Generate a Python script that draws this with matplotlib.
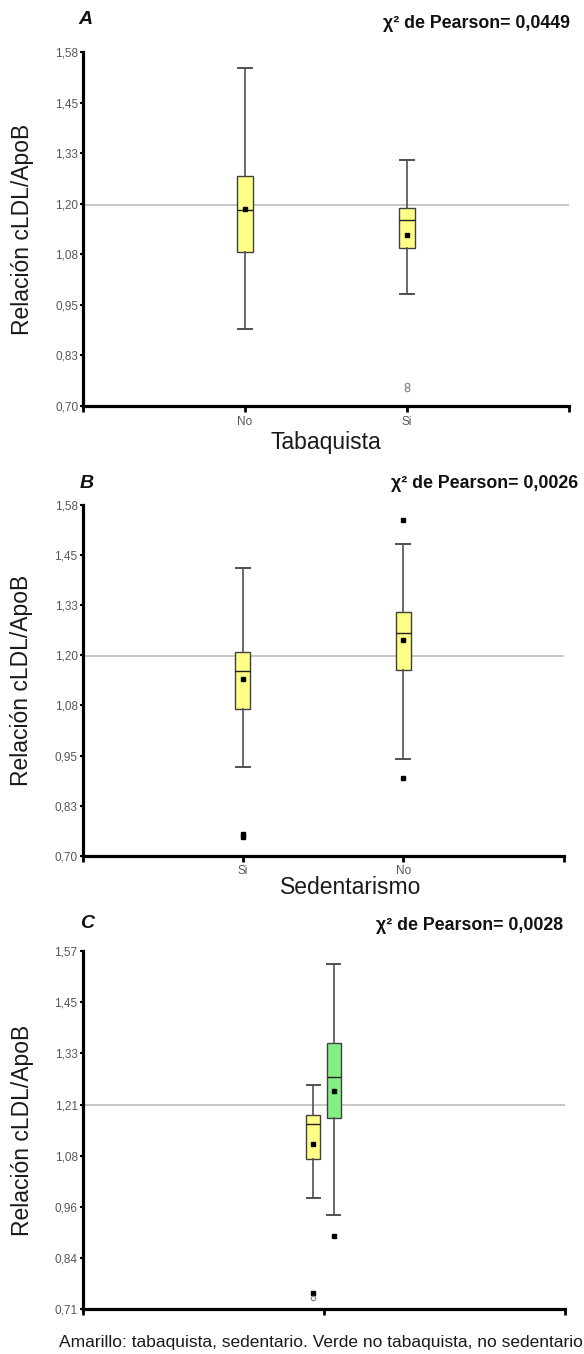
import numpy as np
import matplotlib
matplotlib.use("Agg")
import matplotlib.pyplot as plt

plt.rcParams['font.family'] = ['Liberation Sans', 'DejaVu Sans']

# ---------------- data ----------------
# Panel A: Tabaquista
a_labels = ['No', 'Si']
a_whislo = [0.891, 0.979]
a_q1 = [1.083, 1.092]
a_med = [1.187, 1.162]
a_q3 = [1.272, 1.192]
a_whishi = [1.540, 1.311]
a_mean = [1.189, 1.124]
a_fliers = [[], []]
a_far = [[], [0.742, 0.751]]
a_ref = 1.20
a_yticklabels = ['0,70', '0,83', '0,95', '1,08', '1,20', '1,33', '1,45', '1,58']
a_chi = 'χ² de Pearson= 0,0449'

# Panel B: Sedentarismo
b_labels = ['Si', 'No']
b_whislo = [0.923, 0.943]
b_q1 = [1.067, 1.166]
b_med = [1.164, 1.258]
b_q3 = [1.211, 1.311]
b_whishi = [1.423, 1.482]
b_mean = [1.143, 1.240]
b_fliers = [[0.748, 0.754], [0.894, 1.542]]
b_far = [[], []]
b_ref = 1.20
b_yticklabels = ['0,70', '0,83', '0,95', '1,08', '1,20', '1,33', '1,45', '1,58']
b_chi = 'χ² de Pearson= 0,0026'

# Panel C: combined (yellow: tabaquista, sedentario; green: no tabaquista, no sedentario)
c_labels = ['', '']
c_whislo = [0.976, 0.937]
c_q1 = [1.070, 1.169]
c_med = [1.154, 1.267]
c_q3 = [1.176, 1.348]
c_whishi = [1.249, 1.539]
c_mean = [1.106, 1.234]
c_fliers = [[0.748], [0.887]]
c_far = [[0.737], []]
c_ref = 1.20
c_yticklabels = ['0,71', '0,84', '0,96', '1,08', '1,21', '1,33', '1,45', '1,57']
c_chi = 'χ² de Pearson= 0,0028'

caption = 'Amarillo: tabaquista, sedentario. Verde no tabaquista, no sedentario'

YELLOW = '#FFFF88'
GREEN = '#84F084'

W, H = 584, 1354
fig = plt.figure(figsize=(W / 100, H / 100), dpi=100)


def px_axes(left, right, top, bottom):
    return fig.add_axes([left / W, 1 - bottom / H, (right - left) / W, (bottom - top) / H])


def draw_panel(ax, labels, whislo, q1, med, q3, whishi, mean, fliers, far,
               positions, width, colors, ylo, yhi, yticklabels, ref, xlim, xticks, xticklabels):
    stats = []
    for i in range(len(labels)):
        stats.append(dict(label=labels[i], whislo=whislo[i], q1=q1[i], med=med[i],
                          q3=q3[i], whishi=whishi[i], mean=mean[i], fliers=fliers[i]))
    ax.axhline(ref, color='#BDBDBD', lw=1.2, zorder=1)
    bp = ax.bxp(stats, positions=positions, widths=width, capwidths=width * 0.92,
                patch_artist=True, showmeans=True, manage_ticks=False,
                boxprops=dict(edgecolor='#404040', linewidth=1.0),
                medianprops=dict(color='#202020', linewidth=1.0),
                whiskerprops=dict(color='#505050', linewidth=1.2),
                capprops=dict(color='#505050', linewidth=1.4),
                meanprops=dict(marker='s', markerfacecolor='black', markeredgecolor='black',
                               markersize=3.2),
                flierprops=dict(marker='s', markerfacecolor='black', markeredgecolor='black',
                                markersize=3.2))
    for patch, c in zip(bp['boxes'], colors):
        patch.set_facecolor(c)
        patch.set_zorder(2)
    for i, vals in enumerate(far):
        if vals:
            ax.plot([positions[i]] * len(vals), vals, linestyle='none', marker='o',
                    markersize=3.2, markerfacecolor='none', markeredgecolor='#8A8A8A',
                    markeredgewidth=0.9, zorder=3)
    ax.set_ylim(ylo, yhi)
    ax.set_yticks(np.linspace(ylo, yhi, len(yticklabels)))
    ax.set_yticklabels(yticklabels)
    ax.set_xlim(*xlim)
    ax.set_xticks(xticks)
    ax.set_xticklabels(xticklabels)
    for s in ['top', 'right']:
        ax.spines[s].set_visible(False)
    for s in ['left', 'bottom']:
        ax.spines[s].set_linewidth(2.3)
        ax.spines[s].set_color('black')
    ax.tick_params(axis='y', direction='out', length=2.5, width=1.5, pad=1,
                   labelsize=8.5, labelcolor='#55555F', color='black')
    ax.tick_params(axis='x', direction='out', length=4, width=2, pad=3,
                   labelsize=8.5, labelcolor='#55555F', color='black')
    ax.set_facecolor('white')


# Panel A
axA = px_axes(83, 569, 52, 406)
draw_panel(axA, a_labels, a_whislo, a_q1, a_med, a_q3, a_whishi, a_mean, a_fliers, a_far,
           [1, 2], 0.093, [YELLOW, YELLOW], 0.70, 1.58, a_yticklabels, a_ref,
           (0, 3), [0, 1, 2, 3], [''] + a_labels + [''])
axA.set_ylabel('Relación cLDL/ApoB', fontsize=16.5, color='#1a1a1a')
axA.yaxis.set_label_coords(-0.1255, 0.5)
axA.yaxis.label.set_va('center')
axA.set_xlabel('Tabaquista', fontsize=16.5, color='#1a1a1a')
axA.xaxis.set_label_coords(0.5, -0.1045)
axA.xaxis.label.set_va('center')

# Panel B
axB = px_axes(82.5, 563.5, 505, 855.7)
draw_panel(axB, b_labels, b_whislo, b_q1, b_med, b_q3, b_whishi, b_mean, b_fliers, b_far,
           [1, 2], 0.093, [YELLOW, YELLOW], 0.70, 1.58, b_yticklabels, b_ref,
           (0, 3), [0, 1, 2, 3], [''] + b_labels + [''])
axB.set_ylabel('Relación cLDL/ApoB', fontsize=16.5, color='#1a1a1a')
axB.yaxis.set_label_coords(-0.1258, 0.5)
axB.yaxis.label.set_va('center')
axB.set_xlabel('Sedentarismo', fontsize=16.5, color='#1a1a1a')
axB.xaxis.set_label_coords(0.558, -0.092)
axB.xaxis.label.set_va('center')

# Panel C
axC = px_axes(82.5, 564.5, 951, 1309.3)
draw_panel(axC, c_labels, c_whislo, c_q1, c_med, c_q3, c_whishi, c_mean, c_fliers, c_far,
           [0.958, 1.042], 0.058, [YELLOW, GREEN], 0.71, 1.57, c_yticklabels, c_ref,
           (0, 2), [0, 1, 2], ['', '', ''])
axC.set_ylabel('Relación cLDL/ApoB', fontsize=16.5, color='#1a1a1a')
axC.yaxis.set_label_coords(-0.1255, 0.5)
axC.yaxis.label.set_va('center')

# Panel letters and chi-square texts
for letter, lx, ly in [('A', 78, 20), ('B', 80, 483), ('C', 80, 923)]:
    fig.text(lx / W, 1 - ly / H, letter, fontsize=14, fontweight='bold', fontstyle='italic',
             ha='left', va='center', color='#111111')
for txt, rx, ry in [(a_chi, 570, 23), (b_chi, 578, 484), (c_chi, 563, 925)]:
    fig.text(rx / W, 1 - ry / H, txt, fontsize=12.8, fontweight='bold',
             ha='right', va='center', color='#111111')

fig.text(321 / W, 1 - 1342 / H, caption, fontsize=12.5, ha='center', va='center',
         color='#1a1a1a')

fig.savefig('out.png', dpi=100, facecolor='white')
